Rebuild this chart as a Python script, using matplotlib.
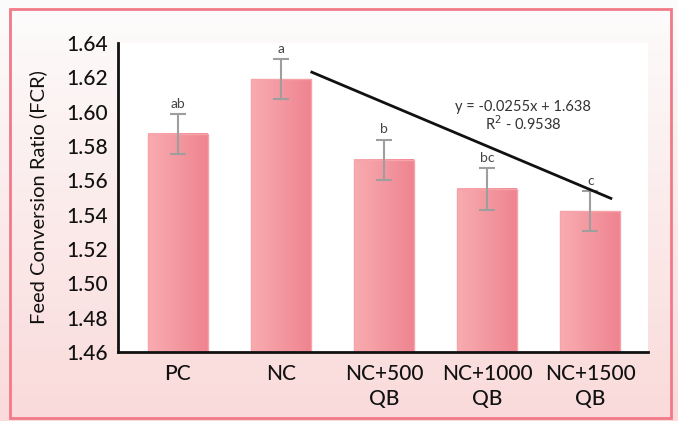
import numpy as np
import matplotlib
matplotlib.use("Agg")
from matplotlib import pyplot as plt
from matplotlib.patches import Rectangle

# data
groups = ["PC", "NC", "NC+500\nQB", "NC+1000\nQB", "NC+1500\nQB"]
fcr = [1.587, 1.619, 1.572, 1.555, 1.542]
fcr_err = [0.0117, 0.0115, 0.0117, 0.012, 0.0117]
letters = ["ab", "a", "b", "bc", "c"]
trend_x = [1.3, 4.2]
trend_y = [1.623, 1.5495]
eq_text = "y = -0.0255x + 1.638\nR$^{2}$ - 0.9538"
y_ticks = [1.46, 1.48, 1.50, 1.52, 1.54, 1.56, 1.58, 1.60, 1.62, 1.64]

plt.rcParams['font.family'] = ['Lato', 'DejaVu Sans']

fig = plt.figure(figsize=(6.78, 4.21), dpi=100)

# pink gradient background with border
bg = fig.add_axes([0, 0, 1, 1], zorder=-5)
grad = np.linspace(0, 1, 256).reshape(-1, 1)
top_c = np.array([253, 252, 252]) / 255
bot_c = np.array([250, 218, 218]) / 255
img = top_c + (bot_c - top_c) * grad[:, :, None] * np.ones((1, 2, 1))
bg.imshow(img, extent=[0, 1, 0, 1], aspect="auto", origin="upper")
bg.add_patch(Rectangle((10 / 678, 3 / 421), 661 / 678, 409 / 421,
                       fill=False, edgecolor="#f07a88", linewidth=2))
bg.set_xlim(0, 1)
bg.set_ylim(0, 1)
bg.axis("off")

ax = fig.add_axes([118 / 678, 1 - 352 / 421, 530 / 678, 309 / 421])
ax.set_facecolor("white")

x = np.arange(len(groups))
bars = ax.bar(x, fcr, width=0.58, color="none",
              edgecolor="#f7a3aa", linewidth=1, zorder=2)

# horizontal gradient inside bars
bar_grad = np.linspace(0, 1, 64).reshape(1, -1)
left_c = np.array([248, 172, 176]) / 255
right_c = np.array([239, 132, 144]) / 255
bar_img = left_c + (right_c - left_c) * bar_grad[:, :, None]
for b in bars:
    x0 = b.get_x()
    w = b.get_width()
    ax.imshow(bar_img, extent=[x0, x0 + w, 1.46, b.get_height()],
              aspect="auto", zorder=1)

ax.errorbar(x, fcr, yerr=fcr_err, fmt="none", ecolor="#9e9e9e",
            elinewidth=1.5, capsize=5.5, capthick=1.5, zorder=3)

for xi, v, e, lab in zip(x, fcr, fcr_err, letters):
    ax.text(xi, v + e + 0.0025, lab, ha="center", va="bottom",
            fontsize=10, color="#444444")

ax.plot(trend_x, trend_y, color="#111111", linewidth=2, zorder=4)
ax.text(3.35, 1.597, eq_text, ha="center", va="center", fontsize=10.5,
        color="#333333", linespacing=1.0)

ax.set_xlim(-0.58, 4.56)
ax.set_ylim(1.46, 1.64)
ax.set_yticks(y_ticks)
ax.set_yticklabels(["{:.2f}".format(t) for t in y_ticks])
ax.set_xticks(x)
ax.set_xticklabels(groups, linespacing=1.3)
ax.tick_params(axis="both", length=0, labelsize=15, colors="#111111")
ax.tick_params(axis="y", pad=7)
ax.tick_params(axis="x", pad=9)
for t in ax.get_xticklabels() + ax.get_yticklabels():
    t.set_fontweight("medium")

for s in ["top", "right"]:
    ax.spines[s].set_visible(False)
for s in ["left", "bottom"]:
    ax.spines[s].set_linewidth(2)
    ax.spines[s].set_color("#111111")

ax.set_ylabel("Feed Conversion Ratio (FCR)", fontsize=14.5, color="#111111",
              labelpad=14)

plt.savefig("out.png", dpi=100)
